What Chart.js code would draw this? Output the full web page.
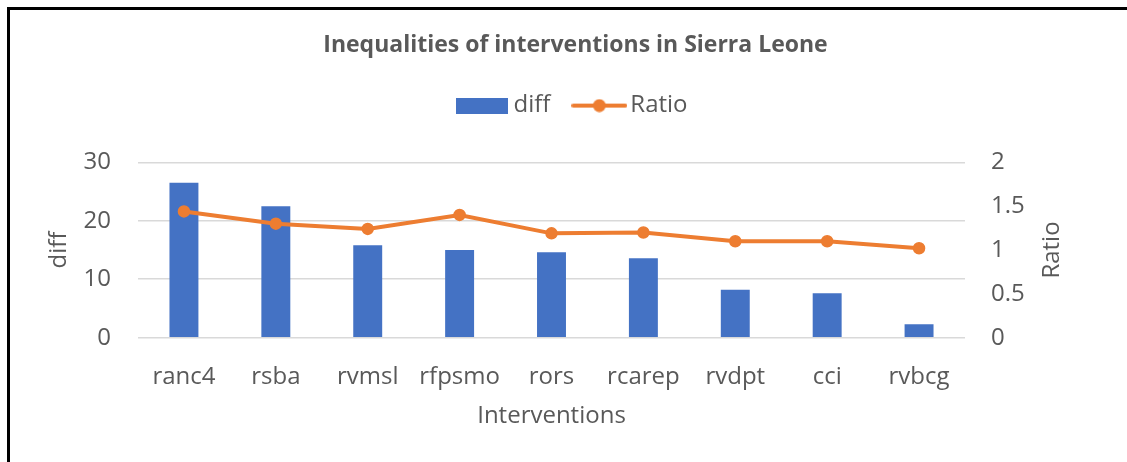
<!DOCTYPE html>
<html>
<head>
<meta charset="utf-8">
<title>Inequalities of interventions in Sierra Leone</title>
<script src="https://cdn.jsdelivr.net/npm/chart.js@4.4.1/dist/chart.umd.min.js"></script>
<style>
  html, body { margin: 0; padding: 0; background: #fff; }
  #wrap { position: relative; width: 1127px; height: 462px; overflow: hidden; }
  #frame { position: absolute; left: 7px; top: 7px; width: 1120px; height: 455px;
           border-left: 3px solid #000; border-top: 3px solid #000; box-sizing: border-box; }
  canvas { position: absolute; left: 0; top: 0; }
</style>
</head>
<body>
<div id="wrap">
  <canvas id="chart" width="1127" height="462"></canvas>
  <div id="frame"></div>
</div>
<script>
// ==================== DATA ====================
const interventions = ["ranc4", "rsba", "rvmsl", "rfpsmo", "rors", "rcarep", "rvdpt", "cci", "rvbcg"];
const diffValues = [26.5, 22.5, 15.8, 15.0, 14.6, 13.6, 8.2, 7.6, 2.3];
const ratioValues = [1.44, 1.30, 1.24, 1.40, 1.19, 1.20, 1.10, 1.10, 1.02];
const diffTicks = { min: 0, max: 30, step: 10 };
const ratioTicks = { min: 0, max: 2, step: 0.5 };

const BLUE = "#4472C4";
const ORANGE = "#ED7D31";
const TEXT = "#595959";

// ==================== LEGEND ICONS ====================
function barIcon() {
  const c = document.createElement("canvas");
  c.width = 52; c.height = 16;
  const g = c.getContext("2d");
  g.fillStyle = BLUE;
  g.fillRect(0, 0, 52, 16);
  return c;
}

function lineIcon() {
  const c = document.createElement("canvas");
  c.width = 56; c.height = 14;
  const g = c.getContext("2d");
  g.strokeStyle = ORANGE;
  g.lineWidth = 4;
  g.lineCap = "round";
  g.beginPath(); g.moveTo(2, 7); g.lineTo(54, 7); g.stroke();
  g.fillStyle = ORANGE;
  g.beginPath(); g.arc(28, 7, 6.5, 0, Math.PI * 2); g.fill();
  return c;
}

const icons = [barIcon(), lineIcon()];

// ==================== PLUGINS ====================
// extra room under the legend, like the gap in the original
const legendGap = {
  id: "legendGap",
  beforeInit(chart) {
    const fit = chart.legend.fit;
    chart.legend.fit = function () {
      fit.bind(chart.legend)();
      this.height += 34.7;
    };
  }
};

// right axis title reads bottom-to-top, Chart.js would rotate it the other way
const ratioTitle = {
  id: "ratioTitle",
  afterDraw(chart) {
    const s = chart.scales.y1;
    const ctx = chart.ctx;
    ctx.save();
    ctx.font = "24px 'Open Sans', sans-serif";
    ctx.fillStyle = TEXT;
    ctx.textAlign = "center";
    ctx.textBaseline = "middle";
    ctx.translate(s.left + 87, (s.top + s.bottom) / 2);
    ctx.rotate(-Math.PI / 2);
    ctx.fillText("Ratio", 0, 0);
    ctx.restore();
  }
};

// ==================== CHART ====================
Chart.defaults.font.family = "'Open Sans', sans-serif";
Chart.defaults.font.size = 24;
Chart.defaults.color = TEXT;

new Chart(document.getElementById("chart"), {
  data: {
    labels: interventions,
    datasets: [
      {
        type: "bar",
        label: "diff",
        data: diffValues,
        backgroundColor: BLUE,
        barPercentage: 0.315,
        categoryPercentage: 1,
        yAxisID: "y",
        order: 1
      },
      {
        type: "line",
        label: "Ratio",
        data: ratioValues,
        borderColor: ORANGE,
        backgroundColor: ORANGE,
        borderWidth: 4,
        pointRadius: 5.5,
        pointBorderWidth: 1.5,
        pointBackgroundColor: ORANGE,
        pointBorderColor: ORANGE,
        tension: 0,
        yAxisID: "y1",
        order: 0
      }
    ]
  },
  options: {
    responsive: false,
    animation: false,
    devicePixelRatio: 1,
    layout: { padding: { top: 0, left: 24, right: 0, bottom: 0 } },
    plugins: {
      tooltip: { enabled: false },
      title: {
        display: true,
        text: "Inequalities of interventions in Sierra Leone",
        color: TEXT,
        font: { size: 23, weight: "bold" },
        padding: { top: 32, bottom: 4 }
      },
      legend: {
        position: "top",
        labels: {
          color: TEXT,
          font: { size: 24 },
          padding: 30,
          usePointStyle: true,
          pointStyleWidth: 38,
          sort: (a, b) => a.datasetIndex - b.datasetIndex,
          generateLabels(chart) {
            const items = Chart.defaults.plugins.legend.labels.generateLabels(chart);
            items.forEach(it => { it.pointStyle = icons[it.datasetIndex]; });
            return items;
          }
        }
      }
    },
    scales: {
      x: {
        grid: { display: false },
        border: { display: false },
        ticks: { padding: 17, color: TEXT, maxRotation: 0, autoSkip: false },
        title: { display: true, text: "Interventions", color: TEXT, padding: { top: 0, bottom: 31 } },
        afterFit: s => { s.height = 124.3; }
      },
      y: {
        position: "left",
        min: diffTicks.min,
        max: diffTicks.max,
        ticks: { stepSize: diffTicks.step, padding: 27, color: TEXT },
        grid: { color: "#D9D9D9", lineWidth: 1.5, drawTicks: false },
        border: { display: false },
        title: { display: true, text: "diff", color: TEXT, padding: { top: 20.6, bottom: 0 } },
        afterFit: s => { s.width = 114; }
      },
      y1: {
        position: "right",
        min: ratioTicks.min,
        max: ratioTicks.max,
        ticks: { stepSize: ratioTicks.step, padding: 26, color: TEXT, callback: v => String(v) },
        grid: { display: false, drawTicks: false },
        border: { display: false },
        afterFit: s => { s.width = 162; }
      }
    }
  },
  plugins: [legendGap, ratioTitle]
});
</script>
</body>
</html>
